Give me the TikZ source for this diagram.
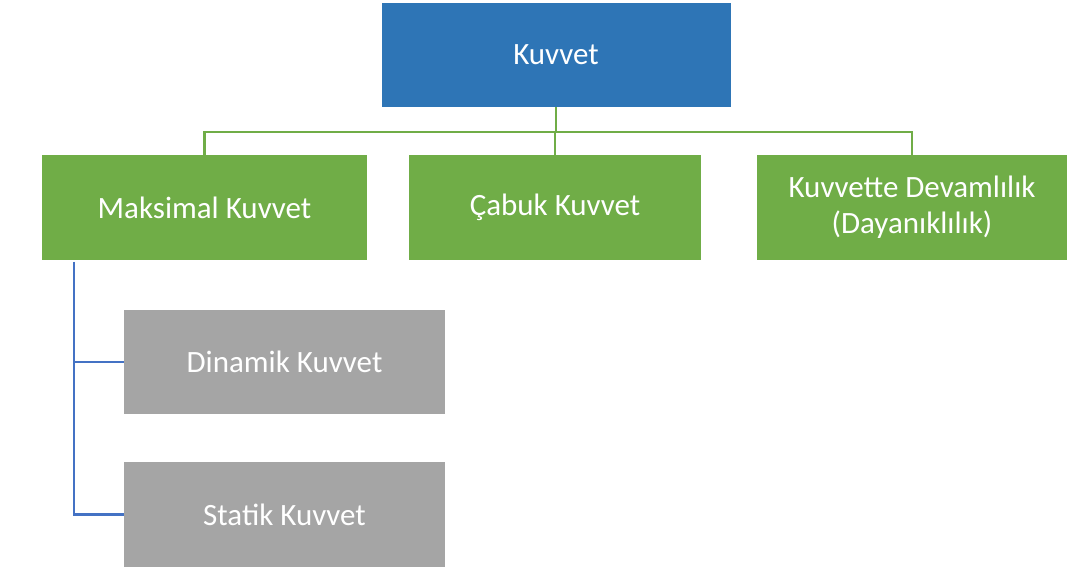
\documentclass[tikz,border=0pt]{standalone}
\usepackage{fontspec}
\setmainfont{Carlito}
\definecolor{kblue}{HTML}{2E75B6}
\definecolor{kgreen}{HTML}{70AD47}
\definecolor{kgray}{HTML}{A5A5A5}
\definecolor{kline}{HTML}{4472C4}
\tikzset{
  kbox/.style={draw=none, text=white, align=center, inner sep=0pt,
    font=\fontsize{31}{36}\selectfont},
  glink/.style={draw=kgreen, line width=2.5pt},
  blink/.style={draw=kline, line width=2.5pt}
}
\begin{document}
\begin{tikzpicture}[x=1pt, y=-1pt]
\useasboundingbox (0,0) rectangle (1069,572);
\node[kbox, fill=kblue, minimum width=349pt, minimum height=104pt] (kuvvet) at (556,55) {Kuvvet};
\node[kbox, fill=kgreen, minimum width=325pt, minimum height=105pt] (maks) at (204.5,207.5) {Maksimal Kuvvet};
\node[kbox, fill=kgreen, minimum width=292pt, minimum height=105pt] (cabuk) at (555,207.5) {Çabuk Kuvvet};
\node[kbox, fill=kgreen, minimum width=310pt, minimum height=105pt] (devam) at (912,207.5) {Kuvvette Devamlılık\\(Dayanıklılık)};
\node[kbox, fill=kgray, minimum width=321pt, minimum height=104pt] (dinamik) at (284.5,362) {Dinamik Kuvvet};
\node[kbox, fill=kgray, minimum width=321pt, minimum height=105pt] (statik) at (284.5,514.5) {Statik Kuvvet};

% green tree
\coordinate (bar) at (556,132);
\draw[glink] (kuvvet.south) -- (bar);
\draw[glink] (bar) -| (maks.north);
\draw[glink] (bar) -| (cabuk.north);
\draw[glink] (bar) -| (devam.north);

% blue bracket
\coordinate (bus) at (74,262);
\draw[blink] (bus) |- (dinamik.west);
\draw[blink] (bus) |- (statik.west);
\end{tikzpicture}
\end{document}
